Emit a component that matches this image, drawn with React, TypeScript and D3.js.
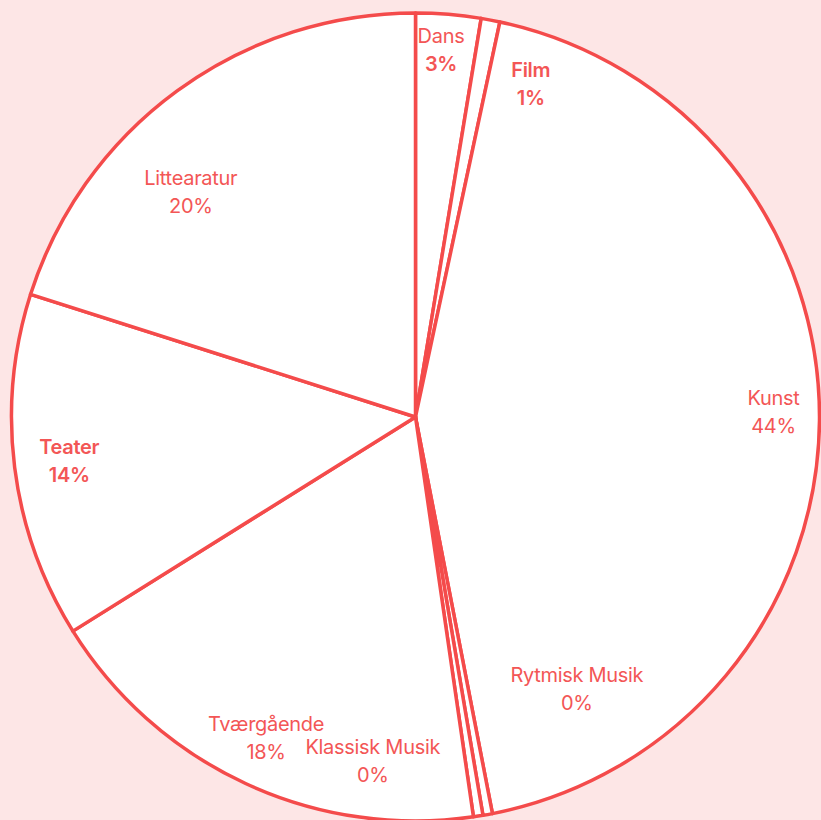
import { useEffect, useRef } from 'react';
import * as d3 from 'd3';

const categories = [
  'Dans',
  'Film',
  'Kunst',
  'Rytmisk Musik',
  'Klassisk Musik',
  'Tværgående',
  'Teater',
  'Littearatur',
];
const shares = [2.6, 0.75, 43.6, 0.38, 0.38, 18.4, 13.8, 20.09];
const percentLabels = ['3%', '1%', '44%', '0%', '0%', '18%', '14%', '20%'];
const boldLabels = ['Film', 'Teater'];

// label placement: [angle shift in degrees from slice middle, radius]
const labelLayout: Record<string, [number, number]> = {
  Dans: [-0.7, 368],
  Film: [8.4, 352],
  Kunst: [-1.3, 358],
  'Rytmisk Musik': [-20.4, 316],
  'Klassisk Musik': [16, 347],
  Tværgående: [0.1, 354],
  Teater: [0, 349],
  Littearatur: [-8.8, 318],
};

const colors = {
  bg: '#fde6e6',
  red: '#f44b4b',
  text: '#f35656',
  white: '#ffffff',
};

export default function App() {
  const ref = useRef<SVGSVGElement>(null);

  useEffect(() => {
    const width = 821;
    const height = 820;
    const cx = 415.5;
    const cy = 417;
    const radius = 404;

    const svg = d3.select(ref.current);
    svg.selectAll('*').remove();

    svg
      .append('rect')
      .attr('width', width)
      .attr('height', height)
      .attr('fill', colors.bg);

    const data = categories.map((c, i) => ({
      name: c,
      value: shares[i],
      pct: percentLabels[i],
    }));

    const pie = d3
      .pie<any>()
      .sort(null)
      .value(d => d.value);
    const arcs = pie(data);

    const arc = d3
      .arc<any>()
      .innerRadius(0)
      .outerRadius(radius);

    const g = svg.append('g').attr('transform', `translate(${cx}, ${cy})`);

    g.selectAll('path')
      .data(arcs)
      .enter()
      .append('path')
      .attr('d', arc)
      .attr('fill', colors.white)
      .attr('stroke', colors.red)
      .attr('stroke-width', 3.5)
      .attr('stroke-linejoin', 'round');

    const labels = g
      .selectAll('g.label')
      .data(arcs)
      .enter()
      .append('g')
      .attr('class', 'label')
      .attr('transform', d => {
        const [shift, r] = labelLayout[d.data.name];
        const a = (d.startAngle + d.endAngle) / 2 + (shift * Math.PI) / 180;
        return `translate(${r * Math.sin(a)}, ${-r * Math.cos(a)})`;
      })
      .style('font-family', 'Inter, "Noto Sans", sans-serif')
      .style('font-size', '20px')
      .style('letter-spacing', '-0.3px')
      .attr('fill', colors.text)
      .attr('text-anchor', 'middle')
      .style('font-weight', d => (boldLabels.includes(d.data.name) ? 600 : 400));

    labels
      .append('text')
      .attr('y', -14)
      .attr('dy', '0.35em')
      .text(d => d.data.name);

    labels
      .append('text')
      .attr('y', 14)
      .attr('dy', '0.35em')
      .style('font-weight', d => (d.data.name === 'Dans' ? 600 : null))
      .text(d => d.data.pct);
  }, []);

  return (
    <svg
      ref={ref}
      width={821}
      height={820}
      style={{ position: 'absolute', left: 0, top: 0, display: 'block' }}
    />
  );
}
